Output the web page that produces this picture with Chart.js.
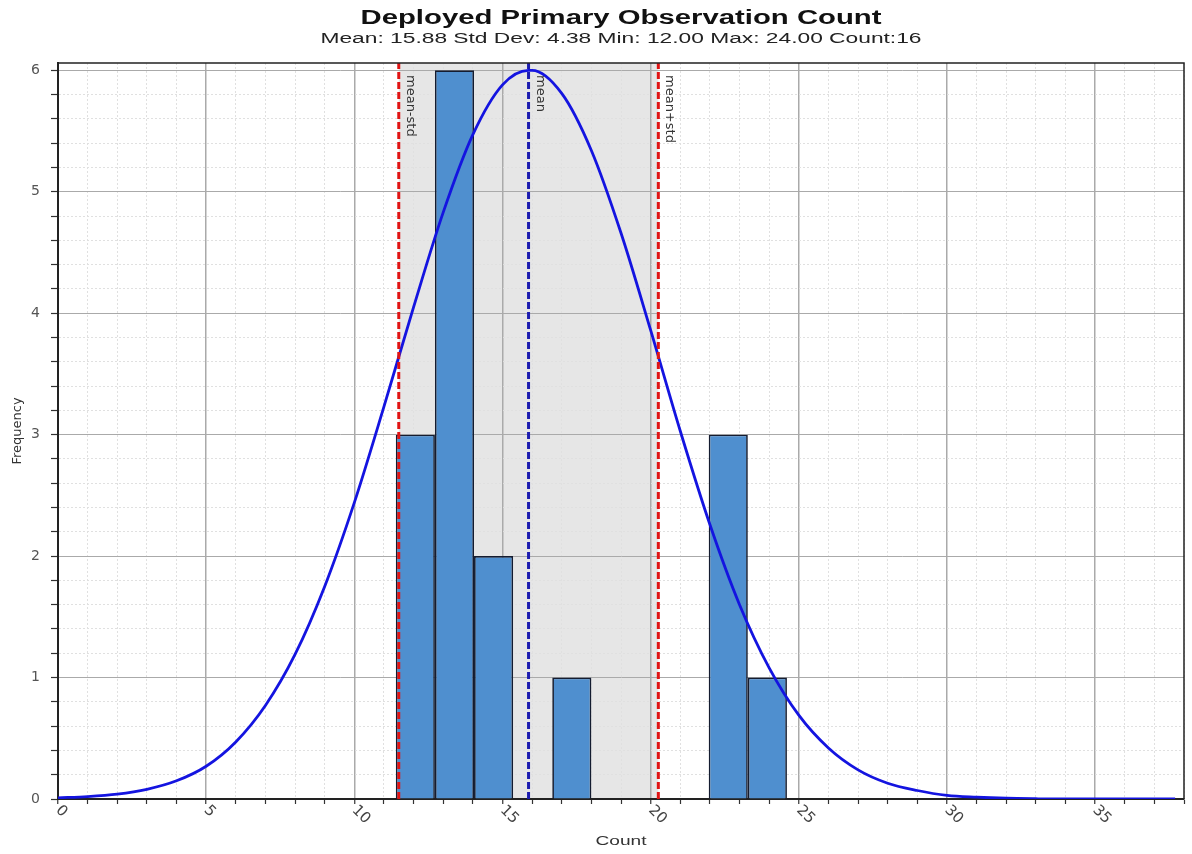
<!DOCTYPE html>
<html>
<head>
<meta charset="utf-8">
<title>Deployed Primary Observation Count</title>
<script src="https://cdn.jsdelivr.net/npm/chart.js@4.4.1/dist/chart.umd.min.js"></script>
<style>
    body { margin: 0; background: #fff; }
    canvas { display: block; }
</style>
</head>
<body>
<canvas id="canvasHisto" width="1192" height="854"></canvas>
<script>
const titre = "Deployed Primary Observation Count"
const sousTitre = "Mean: 15.88 Std Dev: 4.38 Min: 12.00 Max: 24.00 Count:16"
const titreX = "Count"
const titreY = "Frequency"

// histogramme : centre de chaque classe et effectif
const centresClasses = [12.06, 13.38, 14.70, 16.02, 17.34, 18.66, 19.98, 21.30, 22.62, 23.94]
const frequences = [3, 6, 2, 0, 1, 0, 0, 0, 3, 1]
const largeurClasse = 1.32

// courbe de la loi normale
const courbeX = [0, 1, 2, 3, 4, 5, 6, 7, 8, 9, 10, 11, 12, 13, 14, 15, 15.88, 16, 17, 18, 19, 20,
    21, 22, 23, 24, 25, 26, 27, 28, 29, 30, 31, 32, 33, 34, 35, 36, 37, 37.7]
const courbeY = [0.01, 0.02, 0.04, 0.08, 0.15, 0.27, 0.47, 0.77, 1.19, 1.75, 2.44, 3.23, 4.05, 4.83, 5.47, 5.88, 6.00, 6.00, 5.81, 5.34, 4.66, 3.86,
    3.03, 2.26, 1.60, 1.08, 0.69, 0.42, 0.24, 0.13, 0.07, 0.03, 0.015, 0.006, 0.002, 0, 0, 0, 0, 0]

// lignes verticales mean-std / mean / mean+std
const nomsLignes = ["mean-std", "mean", "mean+std"]
const valeursLignes = [11.50, 15.88, 20.26]

const xMin = 0
const xMax = 38
const pasX = 1
const yMax = 6.06

function estEntier(v, pas) {
    return Math.abs(v / pas - Math.round(v / pas)) < 1e-6
}

function texteEtire(ctx, texte, cx, cy, largeur) {
    // le texte de l'image d'origine est plus large que la police, on l'etire
    let w = ctx.measureText(texte).width
    ctx.save()
    ctx.translate(cx, cy)
    ctx.scale(largeur / w, 1)
    ctx.textAlign = "center"
    ctx.textBaseline = "middle"
    ctx.fillText(texte, 0, 0)
    ctx.restore()
}

const pluginDecor = {
    id: "pluginDecor",
    beforeDraw(chart) {
        // zone grise entre mean-std et mean+std, sous la grille
        let {ctx, chartArea, scales} = chart
        let x1 = scales.x.getPixelForValue(valeursLignes[0])
        let x2 = scales.x.getPixelForValue(valeursLignes[2])
        ctx.save()
        ctx.fillStyle = "#e6e6e6"
        ctx.fillRect(x1, chartArea.top, x2 - x1, chartArea.bottom - chartArea.top)
        ctx.restore()
    },
    afterDatasetsDraw(chart) {
        let {ctx, chartArea, scales} = chart
        ctx.save()
        ctx.font = "13px 'DejaVu Sans'"
        ctx.fillStyle = "#333"
        ctx.textAlign = "left"
        ctx.textBaseline = "alphabetic"
        for (let i in nomsLignes) {
            let px = scales.x.getPixelForValue(valeursLignes[i])
            ctx.save()
            ctx.translate(px + 8, chartArea.top + 12)
            ctx.rotate(Math.PI / 2)
            ctx.fillText(nomsLignes[i], 0, 0)
            ctx.restore()
        }
        ctx.restore()
    },
    afterDraw(chart) {
        let {ctx, chartArea, scales} = chart
        let milieu = (chartArea.left + chartArea.right) / 2

        // cadre haut et droite
        ctx.save()
        ctx.strokeStyle = "#222"
        ctx.lineWidth = 1.5
        ctx.beginPath()
        ctx.moveTo(chartArea.left, chartArea.top)
        ctx.lineTo(chartArea.right, chartArea.top)
        ctx.lineTo(chartArea.right, chartArea.bottom)
        ctx.stroke()
        ctx.restore()

        // etiquettes de l'axe x, penchees vers le bas
        ctx.save()
        ctx.font = "15px 'DejaVu Sans'"
        ctx.fillStyle = "#444"
        ctx.textAlign = "left"
        ctx.textBaseline = "middle"
        for (let t of scales.x.ticks) {
            if (!estEntier(t.value, 5)) continue
            let px = scales.x.getPixelForValue(t.value)
            ctx.save()
            ctx.translate(px, chartArea.bottom + 9)
            ctx.rotate(Math.PI / 4)
            ctx.fillText(String(t.value), 0, 0)
            ctx.restore()
        }
        ctx.restore()

        // titres
        ctx.save()
        ctx.fillStyle = "#111"
        ctx.font = "bold 20px 'Liberation Sans'"
        texteEtire(ctx, titre, milieu, 18, 521)
        ctx.fillStyle = "#222"
        ctx.font = "14px 'Liberation Sans'"
        texteEtire(ctx, sousTitre, milieu, 39, 601)
        ctx.fillStyle = "#333"
        ctx.font = "12px 'Liberation Sans'"
        texteEtire(ctx, titreX, milieu, 842, 51)
        ctx.restore()
    }
}

let donneesBarres = centresClasses.map((c, i) => ({x: c, y: frequences[i]}))
let donneesCourbe = courbeX.map((x, i) => ({x: x, y: courbeY[i]}))

let datasetsLignes = valeursLignes.map((v, i) => ({
    type: "line",
    data: [{x: v, y: 0}, {x: v, y: yMax}],
    borderColor: nomsLignes[i] == "mean" ? "#1c1cb0" : "#e01414",
    borderWidth: 3,
    borderDash: [7, 3],
    pointRadius: 0,
    order: 1
}))

new Chart(document.getElementById("canvasHisto"), {
    type: "bar",
    data: {
        datasets: [
            {
                type: "bar",
                data: donneesBarres,
                backgroundColor: "#4f8fcf",
                borderColor: "#141c30",
                borderWidth: (c) => (c.raw && c.raw.y > 0) ? 1.7 : 0,
                barPercentage: 1,
                // la largeur de base est l'ecart entre deux graduations de x
                categoryPercentage: largeurClasse / pasX,
                order: 3
            },
            {
                type: "line",
                data: donneesCourbe,
                borderColor: "#1414e0",
                borderWidth: 2.8,
                pointRadius: 0,
                cubicInterpolationMode: "monotone",
                order: 2
            },
            ...datasetsLignes
        ]
    },
    options: {
        responsive: false,
        animation: false,
        devicePixelRatio: 1,
        layout: { padding: { top: 63, right: 8, left: 0, bottom: 0 } },
        plugins: {
            legend: { display: false },
            tooltip: { enabled: false },
            title: { display: false }
        },
        scales: {
            x: {
                type: "linear",
                min: xMin,
                max: xMax,
                offset: false,
                afterFit: (scale) => { scale.height = 55 },
                ticks: { stepSize: pasX, display: false, autoSkip: false },
                grid: {
                    offset: false,
                    color: (c) => (c.tick && estEntier(c.tick.value, 5)) ? "#aaaaaa" : "#e0e0e0",
                    lineWidth: (c) => (c.tick && estEntier(c.tick.value, 5)) ? 1.5 : 1,
                    tickLength: 5,
                    tickColor: "#333",
                    tickWidth: 1.2
                },
                border: {
                    color: "#222",
                    width: 2,
                    dash: (c) => (c.tick && !estEntier(c.tick.value, 5)) ? [2, 2] : []
                }
            },
            y: {
                type: "linear",
                min: 0,
                max: yMax,
                afterFit: (scale) => { scale.width = 58 },
                ticks: {
                    stepSize: 0.2,
                    includeBounds: false,
                    autoSkip: false,
                    padding: 11,
                    color: "#555",
                    font: { family: "'DejaVu Sans'", size: 14 },
                    callback: (v) => estEntier(v, 1) ? String(Math.round(v)) : ""
                },
                grid: {
                    color: (c) => (c.tick && estEntier(c.tick.value, 1)) ? "#aaaaaa" : "#e0e0e0",
                    lineWidth: 1,
                    tickLength: 7,
                    tickColor: "#333",
                    tickWidth: 1.2
                },
                border: {
                    color: "#222",
                    width: 2,
                    dash: (c) => (c.tick && !estEntier(c.tick.value, 1)) ? [2, 2] : []
                },
                title: {
                    display: true,
                    text: titreY,
                    color: "#333",
                    font: { family: "'DejaVu Sans'", size: 13 },
                    padding: { top: 10, bottom: 0 }
                }
            }
        }
    },
    plugins: [pluginDecor]
})
</script>
</body>
</html>
